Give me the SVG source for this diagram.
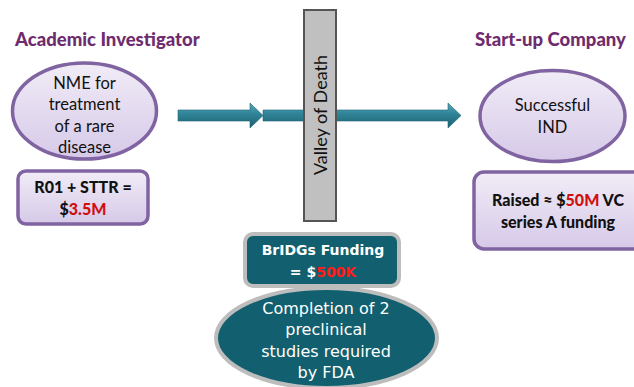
<svg xmlns="http://www.w3.org/2000/svg" width="634" height="387" viewBox="0 0 634 387">
<defs>
<linearGradient id="lav" x1="0" y1="0" x2="0" y2="1">
<stop offset="0" stop-color="#f1ecf7"/>
<stop offset="1" stop-color="#d6c9e8"/>
</linearGradient>
<linearGradient id="arr" x1="0" y1="0" x2="0" y2="1">
<stop offset="0" stop-color="#5aa6b8"/>
<stop offset="0.45" stop-color="#2f8397"/>
<stop offset="1" stop-color="#1c5f70"/>
</linearGradient>
<style>
.title{font-family:Lato,"Open Sans","Liberation Sans",sans-serif;font-weight:900;font-size:18.5px;fill:#6e2c6e}
.lav{fill:url(#lav);stroke:#8064a2;stroke-width:3.5}
.ltxt{font-family:Lato,"Open Sans","Liberation Sans",sans-serif;font-size:16.5px;fill:#111;text-anchor:middle}
.btxt{font-family:Lato,"Open Sans","Liberation Sans",sans-serif;font-size:16px;font-weight:900;fill:#111;text-anchor:middle}
.red{fill:#d01010}
.teal{fill:#12606f;stroke:#bdbdbd;stroke-width:4}
.wtxt{font-family:"DejaVu Sans",Verdana,sans-serif;font-size:16px;fill:#ffffff;text-anchor:middle}
.wb{font-family:"DejaVu Sans",Verdana,sans-serif;font-size:14px;font-weight:bold;fill:#ffffff;text-anchor:middle}
.arrow{fill:url(#arr);stroke:#1f6677;stroke-width:0.6}
</style>
</defs>
<text class="title" x="15" y="46">Academic Investigator</text>
<text class="title" x="475" y="46">Start-up Company</text>
<g id="connectors">
<path class="arrow" d="M263,110 H448 V103 L461,115.5 L448,128 V121 H263 Z"/>
<path class="arrow" d="M178,110 H250 V103 L263,115.5 L250,128 V121 H178 Z"/>
</g>
<g id="valley">
<rect x="304" y="10" width="32" height="211" fill="#c0c0c0" stroke="#555555" stroke-width="2"/>
<text x="320" y="115" transform="rotate(-90 320 115)" font-family="Lato,'Open Sans','Liberation Sans',sans-serif" font-size="18" fill="#111" text-anchor="middle" dominant-baseline="central">Valley of Death</text>
</g>
<g id="nme">
<ellipse class="lav" cx="84.5" cy="111" rx="72" ry="48"/>
<text class="ltxt" x="84.5" y="89">NME for</text>
<text class="ltxt" x="84.5" y="110">treatment</text>
<text class="ltxt" x="84.5" y="132">of a rare</text>
<text class="ltxt" x="84.5" y="153">disease</text>
</g>
<g id="r01">
<rect class="lav" x="18" y="171" width="130" height="53" rx="8"/>
<text class="btxt" x="83" y="193">R01 + STTR =</text>
<text class="btxt" x="83" y="215">$<tspan class="red">3.5M</tspan></text>
</g>
<g id="ind">
<ellipse class="lav" cx="552.5" cy="116" rx="72.5" ry="45.5"/>
<text class="ltxt" x="552.5" y="111">Successful</text>
<text class="ltxt" x="552.5" y="133">IND</text>
</g>
<g id="vc">
<rect class="lav" x="474" y="172" width="170" height="77" rx="10"/>
<text class="btxt" x="558" y="206">Raised ≈ $<tspan class="red">50M</tspan> VC</text>
<text class="btxt" x="558" y="228">series A funding</text>
</g>
<g id="bridgs">
<rect class="teal" x="245" y="234" width="154" height="52" rx="8"/>
<text class="wb" x="323" y="255">BrIDGs Funding</text>
<text class="wb" x="323" y="277">= $<tspan fill="#ff1a1a">500K</tspan></text>
</g>
<g id="completion">
<ellipse class="teal" cx="326.5" cy="338" rx="110.5" ry="50"/>
<text class="wtxt" x="326" y="314">Completion of 2</text>
<text class="wtxt" x="326" y="335">preclinical</text>
<text class="wtxt" x="326" y="357">studies required</text>
<text class="wtxt" x="326" y="378">by FDA</text>
</g>
</svg>
